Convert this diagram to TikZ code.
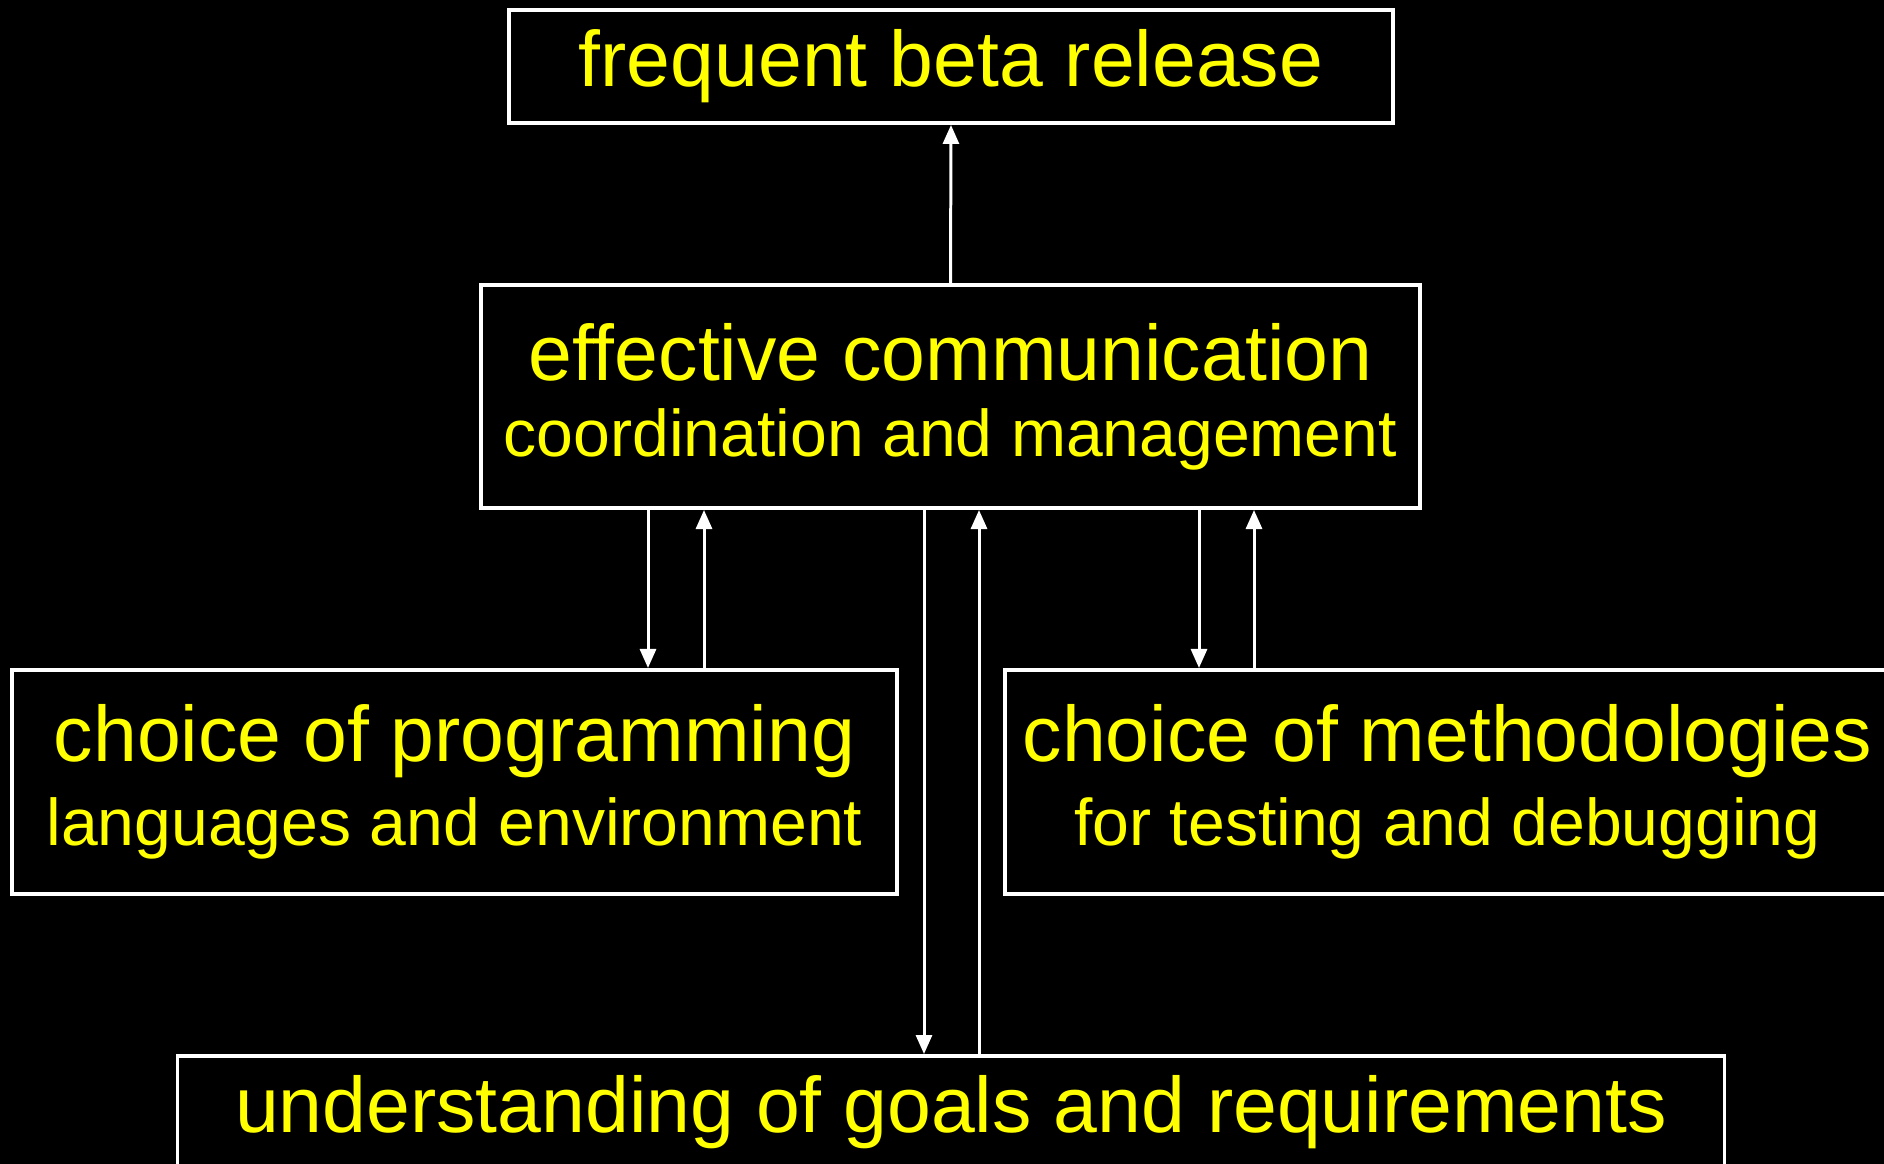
\documentclass[tikz,border=0pt]{standalone}
\usepackage{fontspec}
\setmainfont[Ligatures=NoCommon]{Liberation Sans}
\usetikzlibrary{arrows.meta, calc, positioning}
\definecolor{textyellow}{RGB}{255,255,0}
\newcommand{\subline}[1]{{\fontsize{18.8}{21.6}\selectfont #1}}
\tikzset{
    block/.style={draw=white, line width=1.1pt, text=textyellow, align=center,
        inner sep=0pt, font=\fontsize{22.4}{21.6}\selectfont},
    flow/.style={draw=white, line width=0.85pt, -{Triangle[length=0.19cm, width=0.16cm]}}
}

\begin{document}
\begin{tikzpicture}[x=0.01cm, y=-0.01cm]
    \useasboundingbox (0,0) rectangle (1884,1164);
    \clip (0,0) rectangle (1884,1164);
    \fill[black] (0,0) rectangle (1884,1164);

    \node[block, minimum width=8.84cm, minimum height=1.13cm] (rel) at (951,66.5) {frequent beta release};
    \node[block, minimum width=9.39cm, minimum height=2.23cm] (comm) at (950.5,396.5)
        {effective communication\\\subline{coordination and management}};
    \node[block, minimum width=8.85cm, minimum height=2.24cm] (lang) at (454.5,782)
        {choice of programming\\[2.3pt]\subline{languages and environment}};
    \node[block, minimum width=8.85cm, minimum height=2.24cm] (meth) at (1447.5,782)
        {choice of methodologies\\[2.3pt]\subline{for testing and debugging}};
    \node[block, minimum width=15.46cm, minimum height=1.13cm] (goal) at (951,1112.5)
        {understanding of goals and requirements};

    \draw[flow] (comm.north) -- (rel.south);
    % down and up between the middle box and the lower ones
    \foreach \dx/\lo in {-302.5/lang, 248.5/meth, -26.5/goal} {
        \coordinate (d) at ($(comm.south)+(\dx,0)$);
        \draw[flow] (d) -- (d |- \lo.north);
    }
    \foreach \dx/\lo in {-246.5/lang, 303.5/meth, 28.5/goal} {
        \coordinate (u) at ($(comm.south)+(\dx,0)$);
        \draw[flow] (u |- \lo.north) -- (u);
    }
\end{tikzpicture}
\end{document}
